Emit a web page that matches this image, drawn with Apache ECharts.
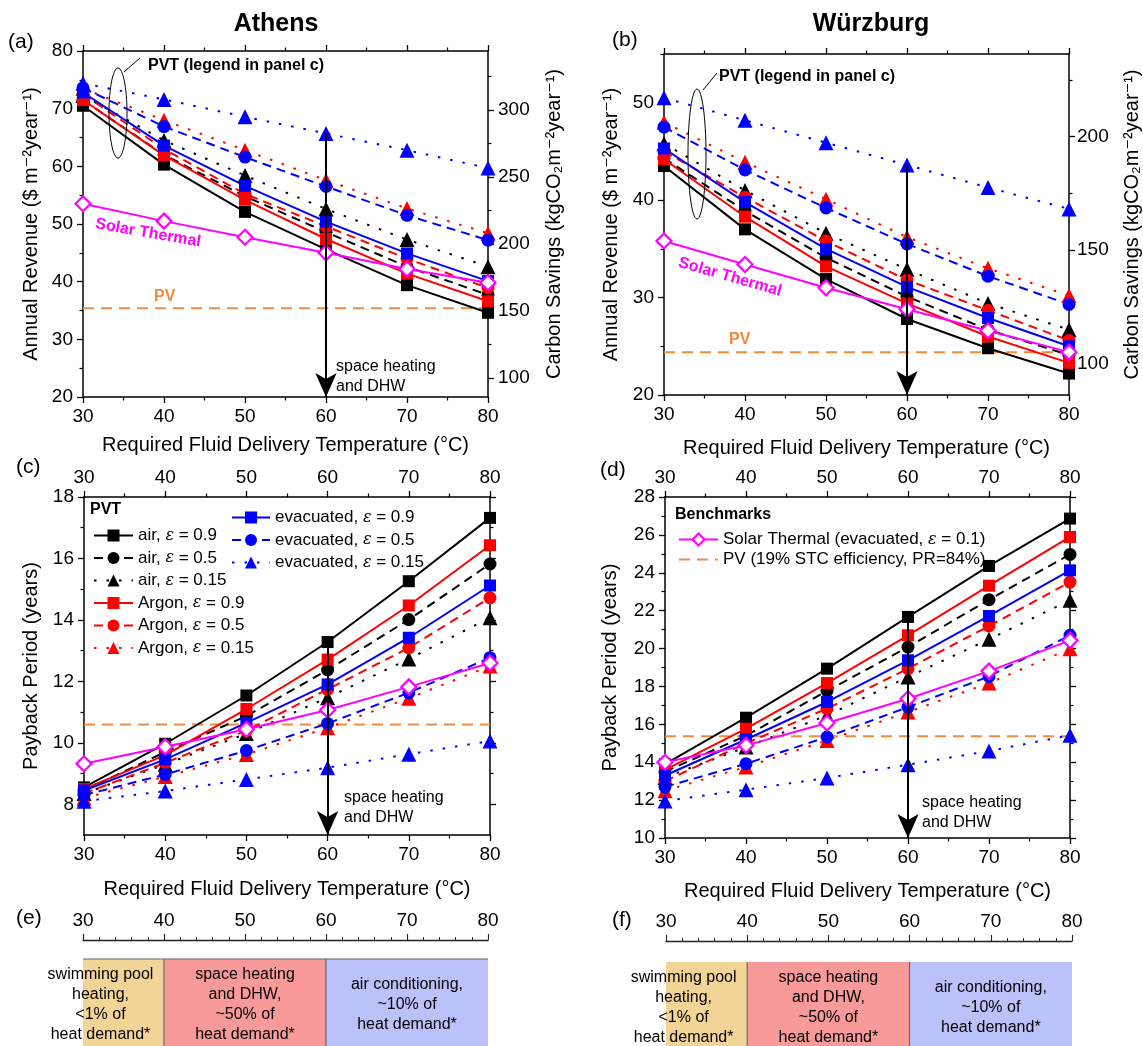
<!DOCTYPE html>
<html>
<head>
<meta charset="utf-8">
<script src="https://cdn.jsdelivr.net/npm/echarts@6/dist/echarts.min.js"></script>
<style>
  html, body { margin: 0; padding: 0; background: #fff; }
  #chart { width: 1143px; height: 1046px; }
</style>
</head>
<body>
<div id="chart"></div>
<script>
// required fluid delivery temperature (°C)
var temps = [30, 40, 50, 60, 70, 80];

// (a) Athens, annual revenue ($ m-2 year-1)
var athRevAir09 = [70.5, 60.3, 52.1, 45.6, 39.4, 34.6];
var athRevAir05 = [71.5, 62.0, 54.8, 48.6, 42.6, 37.7];
var athRevAir015 = [72.3, 64.5, 58.4, 52.6, 47.3, 42.6];
var athRevAr09 = [71.5, 61.9, 54.2, 47.4, 41.4, 36.6];
var athRevAr05 = [72.5, 63.0, 55.2, 49.6, 44.0, 38.9];
var athRevAr015 = [73.5, 68.0, 62.8, 57.6, 52.7, 48.4];
var athRevEv09 = [72.8, 63.6, 56.6, 50.4, 44.9, 40.1];
var athRevEv05 = [73.6, 66.9, 61.6, 56.5, 51.5, 47.2];
var athRevEv015 = [74.4, 71.6, 68.6, 65.7, 62.8, 59.7];
var athRevSolar = [53.5, 50.5, 47.7, 45.0, 42.2, 39.8];
var athRevPV = 35.4;

// (b) Würzburg, annual revenue ($ m-2 year-1)
var wueRevAir09 = [43.5, 37.0, 31.9, 27.8, 24.8, 22.2];
var wueRevAir05 = [44.3, 38.9, 34.1, 30.1, 26.7, 24.1];
var wueRevAir015 = [45.8, 41.0, 36.6, 32.9, 29.4, 26.7];
var wueRevAr09 = [44.2, 38.3, 33.2, 29.4, 26.0, 23.3];
var wueRevAr05 = [45.0, 40.3, 35.8, 31.8, 28.7, 25.6];
var wueRevAr015 = [48.0, 43.9, 40.1, 36.2, 33.0, 30.2];
var wueRevEv09 = [45.3, 39.8, 35.0, 31.1, 27.9, 25.0];
var wueRevEv05 = [47.5, 43.1, 39.2, 35.5, 32.2, 29.3];
var wueRevEv015 = [50.5, 48.2, 45.9, 43.6, 41.3, 39.1];
var wueRevSolar = [35.8, 33.4, 31.0, 28.8, 26.6, 24.4];
var wueRevPV = 24.4;

// (c) Athens, payback period (years)
var athPayAir09 = [8.55, 9.97, 11.54, 13.28, 15.26, 17.32];
var athPayAir05 = [8.45, 9.7, 10.87, 12.37, 14.01, 15.82];
var athPayAir015 = [8.35, 9.3, 10.3, 11.47, 12.73, 14.07];
var athPayAr09 = [8.5, 9.6, 11.1, 12.71, 14.47, 16.43];
var athPayAr05 = [8.35, 9.35, 10.4, 11.74, 13.09, 14.72];
var athPayAr015 = [8.2, 8.9, 9.62, 10.49, 11.45, 12.5];
var athPayEv09 = [8.45, 9.46, 10.65, 11.9, 13.42, 15.12];
var athPayEv05 = [8.3, 8.97, 9.75, 10.63, 11.63, 12.77];
var athPayEv015 = [8.1, 8.43, 8.81, 9.19, 9.63, 10.06];
var athPaySolar = [9.32, 9.87, 10.44, 11.07, 11.82, 12.6];
var athPayPV = 10.6;

// (d) Würzburg, payback period (years)
var wuePayAir09 = [13.9, 16.35, 18.94, 21.67, 24.36, 26.86];
var wuePayAir05 = [13.5, 15.4, 17.76, 20.08, 22.58, 24.97];
var wuePayAir015 = [13.2, 14.8, 16.47, 18.5, 20.49, 22.55];
var wuePayAr09 = [13.6, 15.77, 18.18, 20.7, 23.32, 25.89];
var wuePayAr05 = [13.0, 15.0, 16.83, 18.94, 21.19, 23.51];
var wuePayAr015 = [12.5, 13.75, 15.15, 16.65, 18.18, 19.99];
var wuePayEv09 = [13.3, 15.2, 17.18, 19.38, 21.72, 24.13];
var wuePayEv05 = [12.7, 13.92, 15.33, 16.91, 18.53, 20.7];
var wuePayEv015 = [11.95, 12.55, 13.17, 13.87, 14.59, 15.42];
var wuePaySolar = [14.0, 14.89, 16.07, 17.35, 18.81, 20.43];
var wuePayPV = 15.37;

// carbon savings axis: kgCO2 per $ of revenue
var carbonPerDollar = 4.3;

var pvtNames = ['air, ε = 0.9', 'air, ε = 0.5', 'air, ε = 0.15',
  'Argon, ε = 0.9', 'Argon, ε = 0.5', 'Argon, ε = 0.15',
  'evacuated, ε = 0.9', 'evacuated, ε = 0.5', 'evacuated, ε = 0.15'];
var solarName = 'Solar Thermal (evacuated, ε = 0.1)';
var pvName = 'PV (19% STC efficiency, PR=84%)';

// heat demand bands (e), (f)
var bandStart = [30, 40, 60];
var bandEnd = [40, 60, 80];
var bandLabels = ['swimming pool\nheating,\n<1% of\nheat demand*',
  'space heating\nand DHW,\n~50% of\nheat demand*',
  'air conditioning,\n~10% of\nheat demand*'];

var FONT = "'Liberation Sans', Arial, 'DejaVu Sans', sans-serif";
var bandColors = ['#F2D596', '#F99A9A', '#BBC2F9'];
var styles = [
  { color: '#000', dash: 'solid', symbol: 'rect', size: 12 },
  { color: '#000', dash: [9, 6], symbol: 'circle', size: 13 },
  { color: '#000', dash: [2.5, 10], symbol: 'triangle', size: 15 },
  { color: '#f00', dash: 'solid', symbol: 'rect', size: 12 },
  { color: '#f00', dash: [9, 6], symbol: 'circle', size: 13 },
  { color: '#f00', dash: [2.5, 10], symbol: 'triangle', size: 15 },
  { color: '#00f', dash: 'solid', symbol: 'rect', size: 12 },
  { color: '#00f', dash: [9, 6], symbol: 'circle', size: 13 },
  { color: '#00f', dash: [2.5, 10], symbol: 'triangle', size: 15 }
];

function lineStyleAx() { return { show: true, onZero: false, lineStyle: { color: '#000', width: 1.5 } }; }
function labelStyle(extra) {
  return Object.assign({ color: '#000', fontSize: 19, fontFamily: FONT, margin: 10 }, extra || {});
}
var nameStyle = { color: '#000', fontSize: 20, fontFamily: FONT };

function xAxesFor(grid, topLabels, name, nameGap) {
  function base(pos) {
    return {
      type: 'value', gridIndex: grid, position: pos, min: 30, max: 80, interval: 10,
      splitLine: { show: false }, axisLine: lineStyleAx(),
      axisTick: { show: true, length: 6, lineStyle: { color: '#000', width: 1.3 } },
      minorTick: { show: true, splitNumber: 2, length: 3.5, lineStyle: { color: '#000', width: 1.2 } }
    };
  }
  var bottom = base('bottom');
  bottom.axisLabel = labelStyle();
  bottom.name = name; bottom.nameLocation = 'middle'; bottom.nameGap = nameGap; bottom.nameTextStyle = nameStyle;
  var top = base('top');
  top.axisLabel = labelStyle({ show: topLabels });
  return [bottom, top];
}

function yPair(grid, pos, min, max, majors, minors, showLabels, name, nameGap, margin) {
  var main = {
    type: 'value', gridIndex: grid, position: pos, min: min, max: max,
    splitLine: { show: false }, axisLine: lineStyleAx(),
    axisTick: { show: true, length: 6, customValues: majors, lineStyle: { color: '#000', width: 1.3 } },
    axisLabel: labelStyle({ show: showLabels, customValues: majors, margin: margin || 10 })
  };
  if (name) {
    main.name = name; main.nameLocation = 'middle'; main.nameGap = nameGap;
    main.nameRotate = 90; main.nameTextStyle = nameStyle;
  }
  var minor = {
    type: 'value', gridIndex: grid, position: pos, min: min, max: max,
    splitLine: { show: false }, axisLine: { show: false },
    axisTick: { show: true, length: 3.5, customValues: minors, lineStyle: { color: '#000', width: 1.2 } },
    axisLabel: { show: false }
  };
  return [main, minor];
}

function range(a, b, step) { var r = []; for (var v = a; v <= b + 1e-9; v += step) r.push(v); return r; }

var grids = [
  { left: 83, top: 51, width: 405, height: 346 },
  { left: 664, top: 54, width: 405, height: 341 },
  { left: 84, top: 497, width: 406, height: 338 },
  { left: 665, top: 497, width: 405, height: 341 },
  { left: 83, top: 959, width: 405, height: 100 },
  { left: 666, top: 962, width: 406, height: 100 }
].map(function (g) { return Object.assign({ outerBoundsMode: 'none', containLabel: false }, g); });

var xAxis = [].concat(
  xAxesFor(0, false, 'Required Fluid Delivery Temperature (°C)', 38),
  xAxesFor(1, false, 'Required Fluid Delivery Temperature (°C)', 43),
  xAxesFor(2, true, 'Required Fluid Delivery Temperature (°C)', 44),
  xAxesFor(3, true, 'Required Fluid Delivery Temperature (°C)', 43)
);
[[4, 19], [5, 21]].forEach(function (p) {
  xAxis.push({
    type: 'value', gridIndex: p[0], position: 'top', offset: p[1], min: 30, max: 80, interval: 10,
    splitLine: { show: false }, axisLine: { show: true, onZero: false, lineStyle: { color: '#222', width: 1.4 } },
    axisTick: { show: true, length: 6, lineStyle: { color: '#222', width: 1.1 } },
    minorTick: { show: true, splitNumber: 5, length: 3, lineStyle: { color: '#222', width: 1 } },
    axisLabel: labelStyle()
  });
});

var revName = 'Annual Revenue ($ m⁻²year⁻¹)';
var co2Name = 'Carbon Savings (kgCO₂m⁻²year⁻¹)';
var payName = 'Payback Period (years)';
var yAxis = [].concat(
  yPair(0, 'left', 20, 80, range(20, 80, 10), range(25, 75, 10), true, revName, 42),
  yPair(0, 'right', 20 * carbonPerDollar, 80 * carbonPerDollar, range(100, 300, 50), range(125, 325, 50), true, co2Name, 56, 10),
  yPair(1, 'left', 20, 55, range(20, 50, 10), range(25, 55, 10), true, revName, 43),
  yPair(1, 'right', 20 * carbonPerDollar, 55 * carbonPerDollar, range(100, 200, 50), range(125, 225, 50), true, co2Name, 53, 8),
  yPair(2, 'left', 7, 18, range(8, 18, 2), range(9, 17, 2), true, payName, 43),
  yPair(2, 'right', 7, 18, range(8, 18, 2), range(9, 17, 2), false),
  yPair(3, 'left', 10, 28, range(10, 28, 2), range(11, 27, 2), true, payName, 45),
  yPair(3, 'right', 10, 28, range(10, 28, 2), range(11, 27, 2), false)
);
yAxis.push({ type: 'value', gridIndex: 4, min: 0, max: 1, show: false });
yAxis.push({ type: 'value', gridIndex: 5, min: 0, max: 1, show: false });

function pts(vals) { return temps.map(function (t, i) { return [t, vals[i]]; }); }

var series = [];
function addPanel(k, pvt, solar, pv, arrowTop) {
  var xi = k * 2, yi = k * 4;
  pvt.forEach(function (vals, i) {
    var s = styles[i];
    series.push({
      type: 'line', name: pvtNames[i], xAxisIndex: xi, yAxisIndex: yi, data: pts(vals),
      symbol: s.symbol, symbolSize: s.size, clip: true, animation: false, z: 3,
      lineStyle: { color: s.color, width: 2, type: s.dash },
      itemStyle: { color: s.color }
    });
  });
  series.push({
    type: 'line', name: solarName, xAxisIndex: xi, yAxisIndex: yi, data: pts(solar),
    symbol: 'diamond', symbolSize: 15, clip: true, animation: false, z: 4,
    lineStyle: { color: '#ff00ff', width: 2 },
    itemStyle: { color: '#fff', borderColor: '#ff00ff', borderWidth: 2.2 }
  });
  series.push({
    type: 'line', name: pvName, xAxisIndex: xi, yAxisIndex: yi,
    data: temps.map(function (t) { return [t, pv]; }),
    symbol: 'none', clip: true, animation: false, z: 2,
    lineStyle: { color: '#F28A3C', width: 2, type: [11, 7] },
    itemStyle: { color: '#F28A3C' },
    markLine: {
      silent: true, animation: false, symbol: ['none', 'arrow'], symbolSize: [16, 24],
      lineStyle: { color: '#000', width: 2, type: 'solid' }, label: { show: false },
      data: [[{ coord: [60, arrowTop] }, { coord: [60, yAxis[yi].min] }]]
    }
  });
}
var i60 = temps.indexOf(60);
addPanel(0, [athRevAir09, athRevAir05, athRevAir015, athRevAr09, athRevAr05, athRevAr015, athRevEv09, athRevEv05, athRevEv015], athRevSolar, athRevPV, athRevEv015[i60]);
addPanel(1, [wueRevAir09, wueRevAir05, wueRevAir015, wueRevAr09, wueRevAr05, wueRevAr015, wueRevEv09, wueRevEv05, wueRevEv015], wueRevSolar, wueRevPV, wueRevEv015[i60]);
addPanel(2, [athPayAir09, athPayAir05, athPayAir015, athPayAr09, athPayAr05, athPayAr015, athPayEv09, athPayEv05, athPayEv015], athPaySolar, athPayPV, athPayAir09[i60]);
addPanel(3, [wuePayAir09, wuePayAir05, wuePayAir015, wuePayAr09, wuePayAr05, wuePayAr015, wuePayEv09, wuePayEv05, wuePayEv015], wuePaySolar, wuePayPV, wuePayAir09[i60]);

function bandSeries(xi, yi, topLine) {
  return {
    type: 'custom', xAxisIndex: xi, yAxisIndex: yi, animation: false, silent: true,
    data: bandStart.map(function (s, i) { return [s, bandEnd[i]]; }),
    renderItem: function (params, api) {
      var i = params.dataIndex;
      var a = api.coord([api.value(0), 1]);
      var b = api.coord([api.value(1), 0]);
      var kids = [
        { type: 'rect', shape: { x: a[0], y: a[1], width: b[0] - a[0], height: b[1] - a[1] }, style: { fill: bandColors[i] } }
      ];
      if (i > 0) kids.push({ type: 'line', shape: { x1: a[0], y1: a[1], x2: a[0], y2: b[1] }, style: { stroke: '#555', lineWidth: 1 } });
      if (topLine) kids.push({ type: 'line', shape: { x1: a[0], y1: a[1], x2: b[0], y2: a[1] }, style: { stroke: '#666', lineWidth: 1.2 } });
      kids.push({
        type: 'text', z2: 10,
        style: {
          text: bandLabels[i], x: (a[0] + b[0]) / 2 + (i === 0 ? -23 : 0), y: a[1] + 46,
          align: 'center', verticalAlign: 'middle', font: '16px ' + FONT, fill: '#000', lineHeight: 20
        }
      });
      return { type: 'group', children: kids };
    }
  };
}
series.push(bandSeries(8, 16, true));
series.push(bandSeries(9, 17, false));

var legendText = {
  color: '#000', fontSize: 17, fontFamily: FONT,
  rich: { e: { fontStyle: 'italic', fontFamily: "'DejaVu Serif', serif", fontSize: 16, color: '#000' } }
};
function fmt(n) { return n.replace('ε', '{e|ε}'); }
var legend = [
  { orient: 'vertical', left: 88, top: 522, itemWidth: 39, itemHeight: 15, itemGap: 5.5, selectedMode: false,
    data: pvtNames.slice(0, 6), textStyle: legendText, formatter: fmt },
  { orient: 'vertical', left: 226, top: 504, itemWidth: 38, itemHeight: 15, itemGap: 5.5, selectedMode: false,
    data: pvtNames.slice(6), textStyle: legendText, formatter: fmt },
  { orient: 'vertical', left: 673, top: 526, itemWidth: 39, itemHeight: 15, itemGap: 3, selectedMode: false,
    data: [solarName, { name: pvName, itemStyle: { opacity: 0 } }], textStyle: legendText, formatter: fmt }
];

function txt(x, y, text, font, fill, align) {
  return {
    type: 'text', x: x, y: y, silent: true, z: 50,
    style: { text: text, font: font, fill: fill || '#000', align: align || 'left', verticalAlign: 'middle', lineHeight: 20 }
  };
}
var bold16 = 'bold 16px ' + FONT;
var graphic = [
  txt(276, 24, 'Athens', 'bold 25px ' + FONT, '#000', 'center'),
  txt(871, 24, 'Würzburg', 'bold 25px ' + FONT, '#000', 'center'),
  txt(8, 42, '(a)', '21px ' + FONT),
  txt(612, 40, '(b)', '21px ' + FONT),
  txt(16, 467, '(c)', '21px ' + FONT),
  txt(600, 470, '(d)', '21px ' + FONT),
  txt(16, 918, '(e)', '21px ' + FONT),
  txt(612, 920, '(f)', '21px ' + FONT),
  // PVT annotations
  { type: 'ellipse', silent: true, z: 50, shape: { cx: 118, cy: 113, rx: 9, ry: 45 }, style: { fill: 'none', stroke: '#000', lineWidth: 1 } },
  { type: 'line', silent: true, z: 50, shape: { x1: 124, y1: 72, x2: 140, y2: 58 }, style: { stroke: '#000', lineWidth: 1 } },
  txt(148, 66, 'PVT (legend in panel c)', bold16),
  { type: 'ellipse', silent: true, z: 50, shape: { cx: 697, cy: 154, rx: 9, ry: 65 }, style: { fill: 'none', stroke: '#000', lineWidth: 1 } },
  { type: 'line', silent: true, z: 50, shape: { x1: 703, y1: 90, x2: 717, y2: 73 }, style: { stroke: '#000', lineWidth: 1 } },
  txt(719, 77, 'PVT (legend in panel c)', bold16),
  // benchmark labels
  { type: 'text', silent: true, z: 50, x: 148, y: 233, rotation: -10 * Math.PI / 180,
    style: { text: 'Solar Thermal', font: bold16, fill: '#ff00ff', align: 'center', verticalAlign: 'middle' } },
  { type: 'text', silent: true, z: 50, x: 730, y: 277, rotation: -16 * Math.PI / 180,
    style: { text: 'Solar Thermal', font: bold16, fill: '#ff00ff', align: 'center', verticalAlign: 'middle' } },
  txt(154, 297, 'PV', bold16, '#F28A3C'),
  txt(729, 340, 'PV', bold16, '#F28A3C'),
  txt(336, 377, 'space heating\nand DHW', '16px ' + FONT),
  txt(344, 808, 'space heating\nand DHW', '16px ' + FONT),
  txt(922, 813, 'space heating\nand DHW', '16px ' + FONT),
  txt(90, 510, 'PVT', bold16),
  txt(675, 515, 'Benchmarks', bold16)
];

var chart = echarts.init(document.getElementById('chart'), null, { renderer: 'canvas' });
chart.setOption({
  animation: false,
  backgroundColor: '#fff',
  textStyle: { fontFamily: FONT },
  grid: grids,
  xAxis: xAxis,
  yAxis: yAxis,
  legend: legend,
  series: series,
  graphic: graphic
});
</script>
</body>
</html>
